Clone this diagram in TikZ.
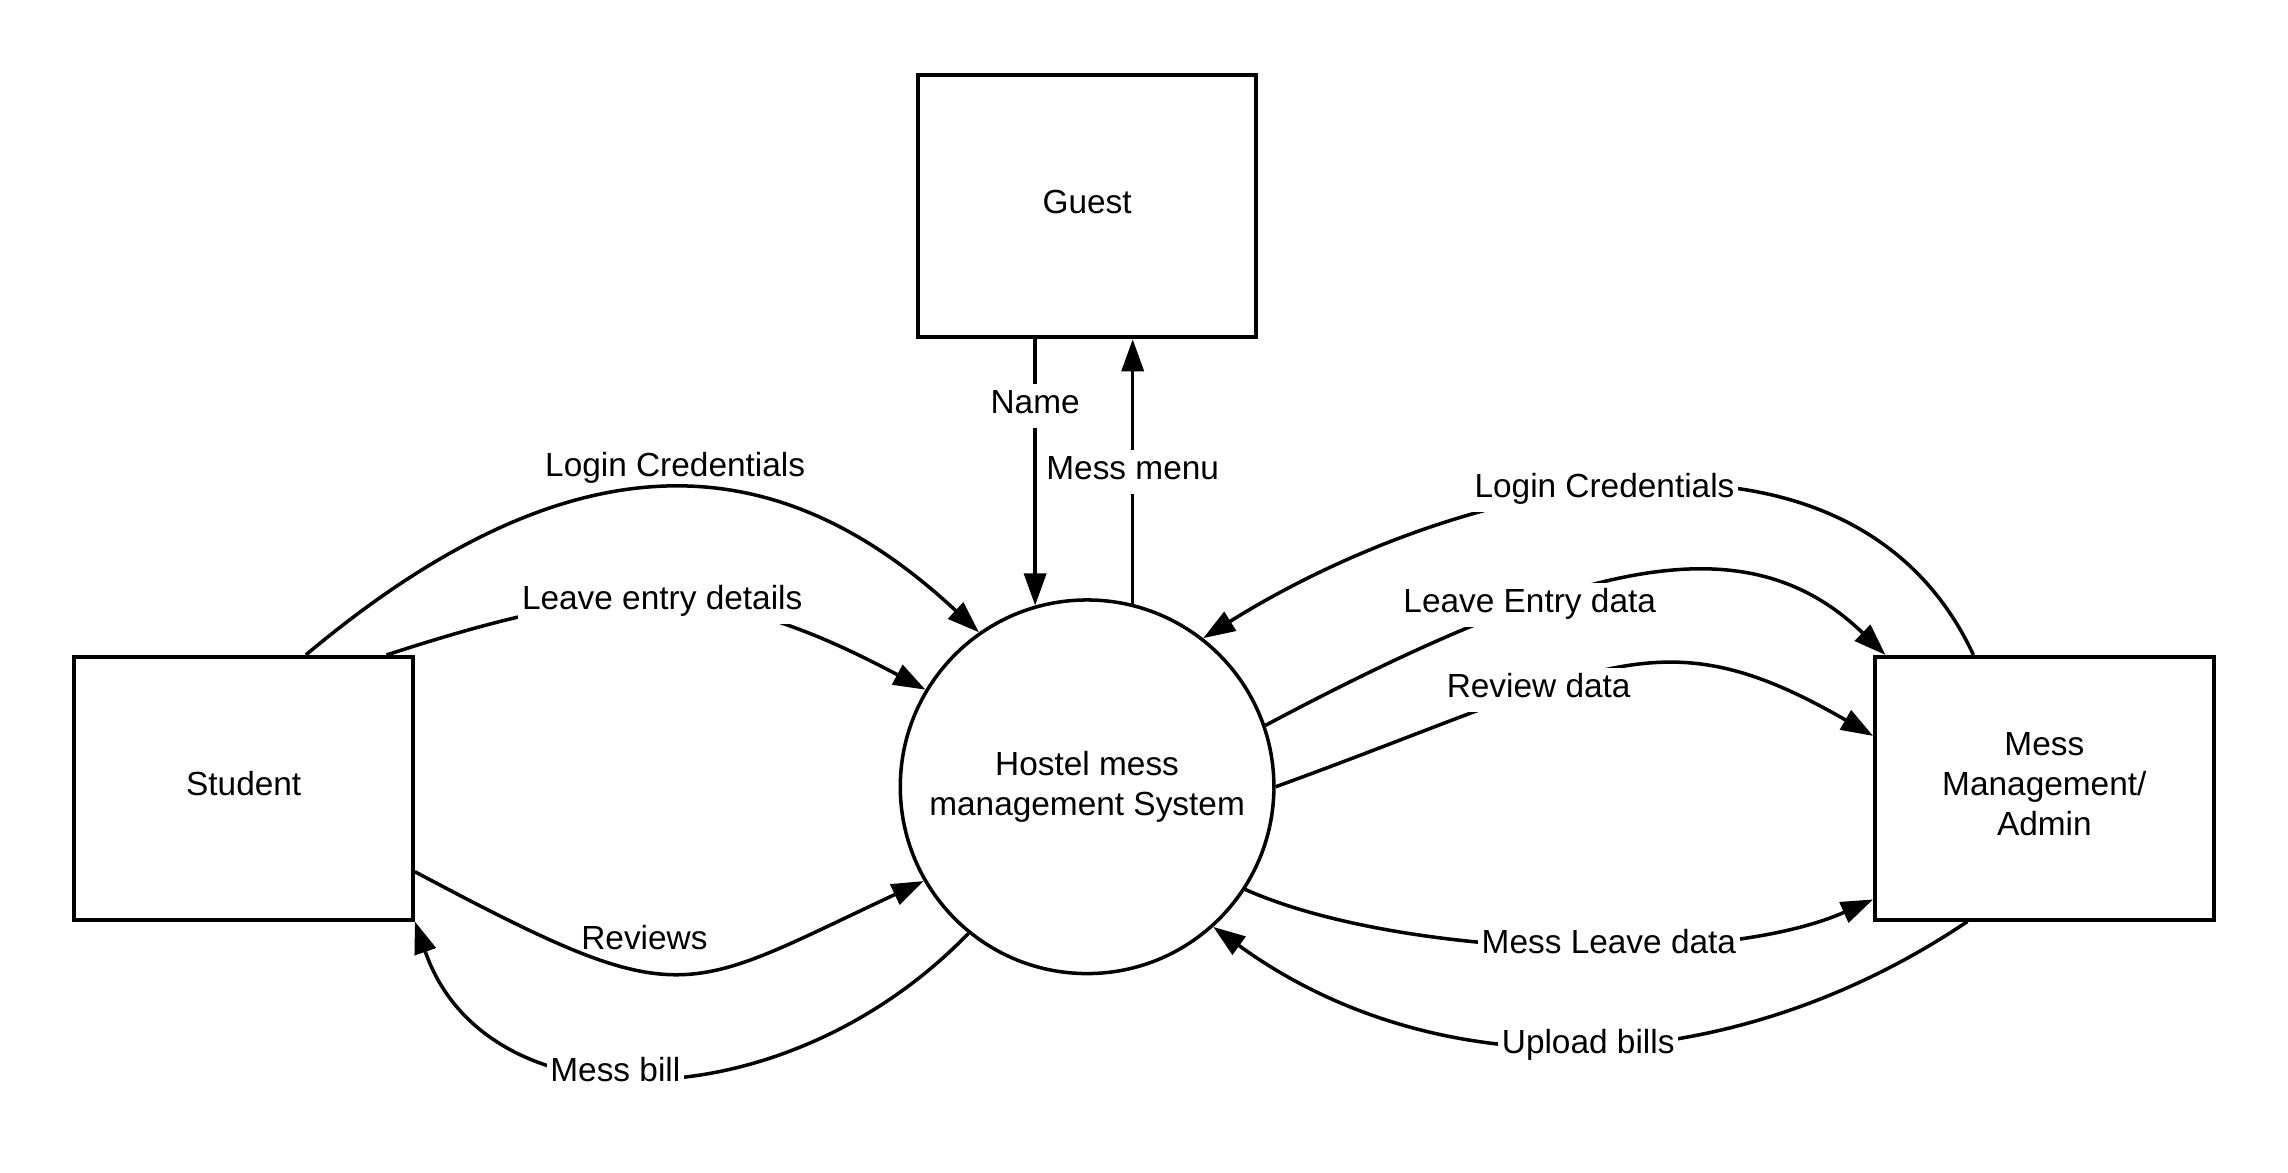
\documentclass[tikz,border=0pt]{standalone}
\usepackage{fontspec}
\setmainfont{Liberation Sans}
\usetikzlibrary{arrows.meta}

\begin{document}
\begin{tikzpicture}[x=0.01459cm, y=0.01459cm,
    font=\fontsize{9.5}{11.3}\selectfont,
    entity/.style={draw, line width=1.1pt, minimum width=3.385cm, minimum height=2.626cm, inner sep=0pt, text depth=2.5pt, align=center},
    process/.style={draw, circle, line width=1pt, minimum size=3.735cm, inner sep=0pt, align=center},
    flow/.style={line width=1pt, -{Triangle[length=3.2mm,width=2.2mm]}},
    lbl/.style={inner xsep=1pt, inner ysep=1.5pt, text height=7pt, text depth=2.5pt},
    cutlbl/.style={lbl, fill=white}]

\useasboundingbox (0,0) rectangle (1568,803.2);

% entities
\node  [entity]   (guest)    at (745,662)   {Guest};
\node  [entity]   (student)  at (167,263)   {Student};
\node  [entity]   (admin)    at (1401,263)  {Mess\\Management/\\Admin};

% process
\node  [process]  (hub)      at (745,264)   {Hostel mess\\management System};


%------------------------------------------------------
% guest
\draw   [flow]   (guest.south -| hub.106) -- node[cutlbl, pos=0.25] {Name} (hub.106);
\draw   [flow]   (hub.76) -- node[cutlbl, pos=0.50] {Mess menu} (hub.76 |- guest.south);

% student
\draw   [flow]   (student.65) .. controls +(40:250) and +(137:180) .. node[lbl, pos=0.5, above=-1pt] {Login Credentials} (hub.125);
\draw   [flow]   (student.43) .. controls +(18:165) and +(152:165) .. node[cutlbl, pos=0.5] {Leave entry details} (hub.149);
\draw   [flow]   (student.-26) .. controls +(-28:210) and +(205:185) .. node[lbl, pos=0.41, above=1.5pt] {Reviews} (hub.210);
\draw   [flow]   (hub.231) .. controls +(-134:180) and +(-71:150) .. node[cutlbl, pos=0.555] {Mess bill} (student.south east);

% admin
\draw   [flow]   (admin.118) .. controls +(115:200) and +(32:210) .. node[cutlbl, pos=0.54] {Login Credentials} (hub.52);
\draw   [flow]   (hub.19) .. controls +(28:250) and +(136:130) .. node[cutlbl, pos=0.32] {Leave Entry data} (admin.140);
\draw   [flow]   (hub.east) .. controls +(20:240) and +(150:170) .. node[cutlbl, pos=0.35] {Review data} (admin.163);
\draw   [flow]   (hub.-33) .. controls +(-24:115) and +(204:115) .. node[cutlbl, pos=0.57] {Mess Leave data} (admin.213);
\draw   [flow]   (admin.240) .. controls +(214:193) and +(-36:193) .. node[cutlbl, pos=0.5] {Upload bills} (hub.-48);

\end{tikzpicture}
\end{document}
